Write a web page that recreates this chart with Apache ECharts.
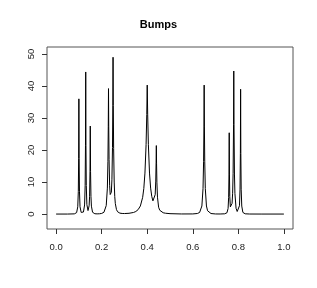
<!DOCTYPE html>
<html>
<head>
<meta charset="utf-8">
<script src="https://cdn.jsdelivr.net/npm/echarts@6/dist/echarts.min.js"></script>
<style>
html, body { margin: 0; padding: 0; background: #fff; }
#chart { width: 317px; height: 288px; }
</style>
</head>
<body>
<div id="chart"></div>
<script>
// Values
var xs = [
  0, 0.05, 0.08, 0.09, 0.095, 0.0975, 0.099, 0.1, 0.101, 0.1025, 0.105, 0.11, 0.115, 0.12,
  0.125, 0.1275, 0.129, 0.13, 0.131, 0.1325, 0.135, 0.14,
  0.145, 0.147, 0.1488, 0.15, 0.1512, 0.153, 0.155, 0.16, 0.17, 0.18, 0.19, 0.2, 0.21, 0.215, 0.22,
  0.225, 0.2275, 0.229, 0.23, 0.231, 0.2325, 0.235, 0.2375, 0.24,
  0.2425, 0.245, 0.2475, 0.249, 0.25, 0.251, 0.2525, 0.255, 0.2575, 0.26, 0.265, 0.27, 0.28, 0.29, 0.3,
  0.32, 0.34, 0.35, 0.36, 0.37, 0.38, 0.385, 0.39, 0.395, 0.398, 0.4, 0.402, 0.405, 0.41, 0.415, 0.42, 0.425, 0.43,
  0.4325, 0.435, 0.4375, 0.439, 0.44, 0.441, 0.4425, 0.445, 0.45, 0.455, 0.46, 0.47, 0.48, 0.5,
  0.55, 0.6, 0.62, 0.63, 0.635, 0.64, 0.645, 0.6475, 0.649, 0.65, 0.651, 0.6525, 0.655, 0.66, 0.665, 0.67, 0.68,
  0.7, 0.72, 0.74, 0.75, 0.755, 0.7575, 0.759, 0.76, 0.761, 0.7625, 0.765, 0.7675, 0.77,
  0.7725, 0.775, 0.777, 0.779, 0.78, 0.781, 0.783, 0.785, 0.79, 0.795, 0.8,
  0.805, 0.8075, 0.809, 0.81, 0.811, 0.8125, 0.815, 0.82, 0.83, 0.85, 0.9, 1.0
];
var ys = [
  0, 0, 0.06, 0.45, 2.26, 7.1, 17.4, 36, 17.4, 7.15, 2.29, 0.52, 0.33, 0.63,
  2.84, 8.86, 21.5, 44.4, 21.5, 8.9, 2.97, 1.09,
  2.61, 5.56, 13.4, 27.5, 13.3, 5.5, 2.47, 0.56, 0.1, 0.06, 0.09, 0.19, 0.56, 1.12, 2.64,
  8.1, 16.5, 27.3, 39.2, 27.5, 17.0, 9.0, 6.1, 5.5,
  6.8, 10.7, 20.8, 34, 49, 33.9, 20.5, 10.0, 5.44, 3.25, 1.39, 0.71, 0.29, 0.18, 0.16,
  0.24, 0.5, 0.8, 1.38, 2.53, 5.23, 7.96, 12.8, 21.7, 31.1, 40.3, 31.2, 21.8, 12.8, 8.1, 5.5, 4.12, 3.86,
  4.43, 6.07, 10.3, 16.0, 21.4, 15.9, 9.95, 5.27, 2.13, 1.18, 0.76, 0.41, 0.26, 0.12,
  0.03, 0.04, 0.17, 0.5, 1.03, 2.52, 7.96, 16.5, 27.5, 40.3, 27.5, 16.5, 7.96, 2.52, 1.03, 0.5, 0.16,
  0.03, 0.02, 0.08, 0.4, 1.74, 5.24, 12.5, 25.4, 12.5, 5.46, 2.24, 1.69, 2.05,
  3.34, 6.5, 12.6, 27.9, 44.7, 27.9, 12.5, 6.46, 1.8, 0.8, 0.78,
  2.6, 7.8, 18.9, 39, 18.9, 7.77, 2.5, 0.51, 0.08, 0.01, 0, 0
];
var xTicks = [0, 0.2, 0.4, 0.6, 0.8, 1.0];
var yTicks = [0, 10, 20, 30, 40, 50];
var titleText = 'Bumps';

var points = [];
for (var i = 0; i < Math.min(xs.length, ys.length); i++) points.push([xs[i], ys[i]]);

var chart = echarts.init(document.getElementById('chart'), null, { renderer: 'canvas' });
var font = 'Liberation Sans, Arial, Helvetica, sans-serif';
chart.setOption({
  animation: false,
  backgroundColor: '#fff',
  title: {
    text: titleText,
    left: 'center',
    top: 14,
    textStyle: { fontFamily: font, fontSize: 11, fontWeight: 'bold', color: '#000' }
  },
  grid: {
    left: 47, right: 24, top: 47, bottom: 59,
    show: true, borderColor: '#555', borderWidth: 1, backgroundColor: 'transparent'
  },
  xAxis: {
    type: 'value', min: -0.04, max: 1.04,
    axisLine: { show: false, onZero: false },
    splitLine: { show: false },
    axisTick: { show: true, customValues: xTicks, length: 5, lineStyle: { color: '#333' } },
    axisLabel: {
      customValues: xTicks, margin: 13, color: '#222', fontFamily: font, fontSize: 9.5,
      formatter: function (v) { return v.toFixed(1); }
    }
  },
  yAxis: {
    type: 'value', min: -4.67, max: 52.2,
    axisLine: { show: false, onZero: false },
    splitLine: { show: false },
    axisTick: { show: true, customValues: yTicks, length: 5, lineStyle: { color: '#333' } },
    axisLabel: {
      customValues: yTicks, rotate: 90, margin: 11, color: '#222', fontFamily: font, fontSize: 9.5,
      formatter: function (v) { return String(v); }
    }
  },
  series: [{
    type: 'line',
    data: points,
    showSymbol: false,
    symbol: 'none',
    lineStyle: { color: '#000', width: 1 },
    silent: true
  }]
});
</script>
</body>
</html>
